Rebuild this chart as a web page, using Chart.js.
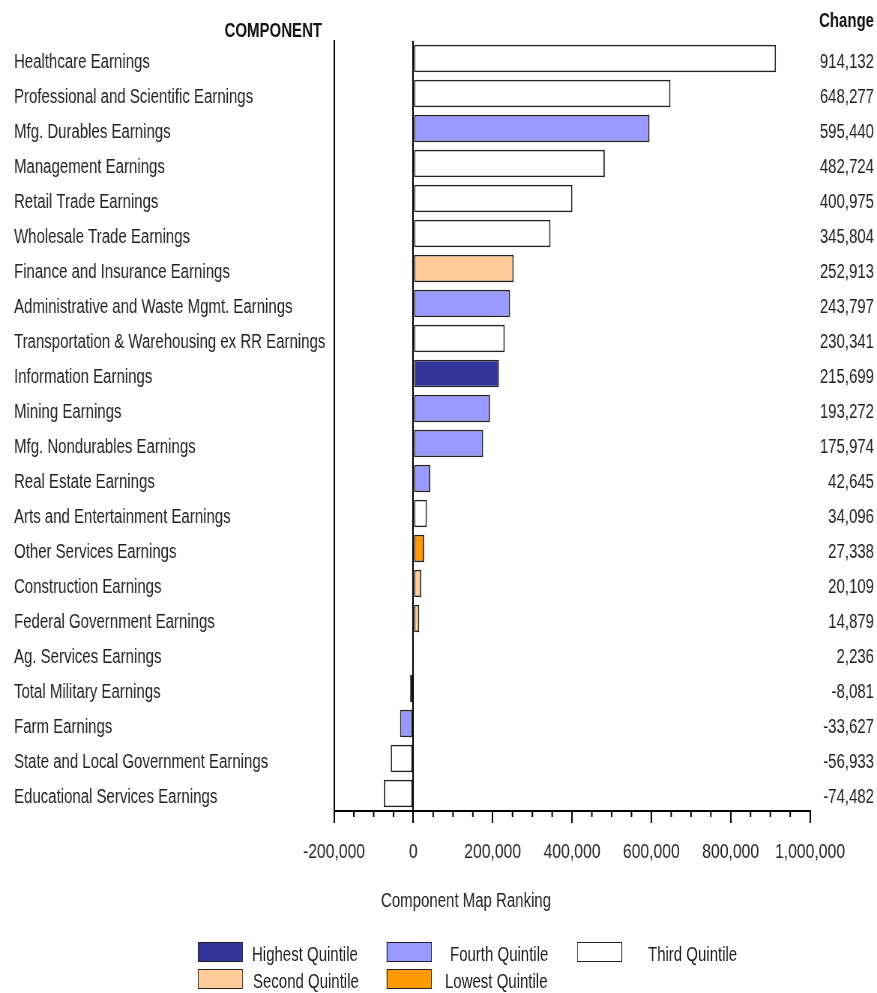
<!DOCTYPE html>
<html>
<head>
<meta charset="utf-8">
<script src="https://cdn.jsdelivr.net/npm/chart.js@4"></script>
<style>
  html, body { margin: 0; background: #fff; overflow: hidden; }
  #wrap { position: relative; width: 1170px; height: 993px; transform-origin: 0 0; }
  #legend { position: absolute; left: 0; top: 0; font-family: "Liberation Sans", Arial, sans-serif; font-size: 20px; color: #222; }
  .box { position: absolute; width: 60px; height: 20px; border: 1.5px solid #222; box-sizing: border-box; }
  .lbl { position: absolute; line-height: 20px; white-space: nowrap; }
</style>
</head>
<body>
<div id="wrap">
  <canvas id="componentChart" width="1170" height="993"></canvas>
  <div id="legend"></div>
</div>
<script>
const components = ['Healthcare Earnings', 'Professional and Scientific Earnings', 'Mfg. Durables Earnings',
  'Management Earnings', 'Retail Trade Earnings', 'Wholesale Trade Earnings', 'Finance and Insurance Earnings',
  'Administrative and Waste Mgmt. Earnings', 'Transportation & Warehousing ex RR Earnings', 'Information Earnings',
  'Mining Earnings', 'Mfg. Nondurables Earnings', 'Real Estate Earnings', 'Arts and Entertainment Earnings',
  'Other Services Earnings', 'Construction Earnings', 'Federal Government Earnings', 'Ag. Services Earnings',
  'Total Military Earnings', 'Farm Earnings', 'State and Local Government Earnings', 'Educational Services Earnings'];
const change = [914132, 648277, 595440, 482724, 400975, 345804, 252913, 243797, 230341, 215699,
  193272, 175974, 42645, 34096, 27338, 20109, 14879, 2236, -8081, -33627, -56933, -74482];
// quintile per component: 5 highest .. 1 lowest
const quintile = [3, 3, 4, 3, 3, 3, 2, 4, 3, 5, 4, 4, 4, 3, 1, 2, 2, 3, 2, 4, 3, 3];
const quintileNames = {5: 'Highest Quintile', 4: 'Fourth Quintile', 3: 'Third Quintile', 2: 'Second Quintile', 1: 'Lowest Quintile'};
const quintileColors = {5: '#333399', 4: '#9999ff', 3: '#ffffff', 2: '#ffcc99', 1: '#ff9900'};
const xTicks = [-200000, 0, 200000, 400000, 600000, 800000, 1000000];

// the original uses a narrow font: draw wide, then squeeze the whole thing horizontally
const K = 877 / 1170;
const sx = px => px / K;
document.getElementById('wrap').style.transform = 'scaleX(' + K + ')';

const FONT = '"Liberation Sans", Arial, sans-serif';
const fmt = v => v.toLocaleString('en-US');

const extras = {
  id: 'extras',
  afterDraw(chart) {
    const c = chart.ctx, x = chart.scales.x, a = chart.chartArea;
    c.save();
    c.strokeStyle = '#000';
    c.lineWidth = 2;
    // minor ticks every 50,000
    for (let v = xTicks[0]; v <= xTicks[xTicks.length - 1]; v += 50000) {
      if (v % 200000 === 0) continue;
      const px = x.getPixelForValue(v);
      c.beginPath(); c.moveTo(px, a.bottom); c.lineTo(px, a.bottom + 6); c.stroke();
    }
    c.fillStyle = '#111';
    c.font = 'bold 20px ' + FONT;
    c.textBaseline = 'middle';
    c.textAlign = 'right';
    c.fillText('COMPONENT', sx(322), 31);
    c.fillText('Change', sx(874), 21);
    c.font = '20px ' + FONT;
    c.fillStyle = '#222';
    c.textAlign = 'center';
    c.fillText('Component Map Ranking', sx(466), 901);
    c.restore();
  }
};

new Chart(document.getElementById('componentChart'), {
  type: 'bar',
  data: {
    labels: components,
    datasets: [{
      data: change,
      backgroundColor: quintile.map(q => quintileColors[q]),
      borderColor: '#222',
      borderWidth: 1.8,
      borderSkipped: false,
      barPercentage: 0.79,
      categoryPercentage: 1
    }]
  },
  options: {
    indexAxis: 'y',
    responsive: false,
    animation: false,
    devicePixelRatio: 1,
    layout: { padding: { top: 41, left: sx(14), right: sx(3), bottom: 122 } },
    plugins: { legend: { display: false }, tooltip: { enabled: false } },
    scales: {
      x: {
        min: -200000, max: 1000000,
        afterBuildTicks: s => { s.ticks = xTicks.map(v => ({ value: v })); },
        afterFit: s => { s.height = 60; },
        ticks: { callback: v => fmt(v), color: '#222', font: { family: FONT, size: 21 }, padding: 17, maxRotation: 0 },
        grid: {
          color: ctx => (ctx.tick && ctx.tick.value === 0 ? '#000' : 'rgba(0,0,0,0)'),
          tickColor: '#000', tickLength: 12, lineWidth: 2
        },
        border: { display: true, color: '#000', width: 2 }
      },
      y: {
        afterFit: s => { s.width = sx(320); },
        ticks: { crossAlign: 'far', color: '#222', font: { family: FONT, size: 20 }, padding: 0, labelOffset: 4 },
        grid: { display: false },
        border: { display: true, color: '#000', width: 2 }
      },
      y2: {
        type: 'category',
        position: 'right',
        labels: change.map(fmt),
        offset: true,
        afterFit: s => { s.width = sx(877 - 810 - 3); },
        ticks: { crossAlign: 'far', color: '#222', font: { family: FONT, size: 20 }, padding: 0, labelOffset: 4 },
        grid: { display: false },
        border: { display: false }
      }
    }
  },
  plugins: [extras]
});

// legend, same layout as the original
const legendSpots = [
  { q: 5, bx: 198, tx: 252, y: 942 }, { q: 4, bx: 387, tx: 450, y: 942 }, { q: 3, bx: 577, tx: 648, y: 942 },
  { q: 2, bx: 198, tx: 253, y: 969 }, { q: 1, bx: 387, tx: 445, y: 969 }
];
const legend = document.getElementById('legend');
legendSpots.forEach(s => {
  const b = document.createElement('div');
  b.className = 'box';
  b.style.left = sx(s.bx) + 'px'; b.style.top = s.y + 'px';
  b.style.background = quintileColors[s.q];
  legend.appendChild(b);
  const t = document.createElement('div');
  t.className = 'lbl';
  t.style.left = sx(s.tx) + 'px'; t.style.top = (s.y + 2) + 'px';
  t.textContent = quintileNames[s.q];
  legend.appendChild(t);
});
</script>
</body>
</html>
